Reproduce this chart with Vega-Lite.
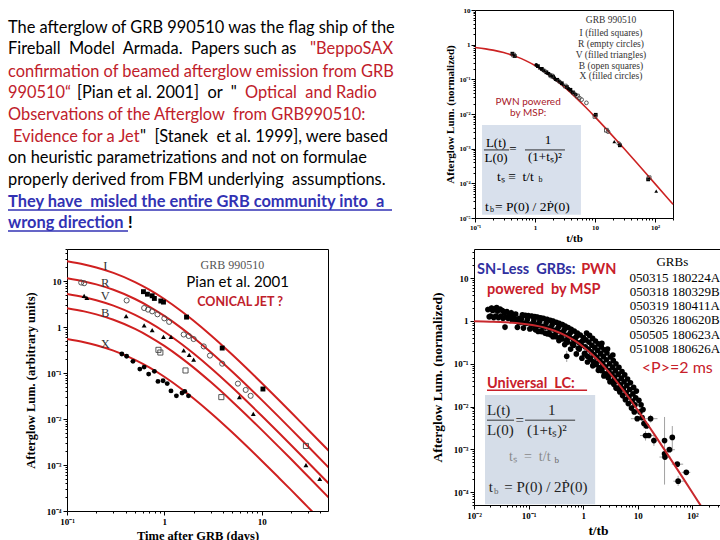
{
"$schema":"https://vega.github.io/schema/vega-lite/v6.json",
"background":"white",
"padding":{"left":0,"top":5,"right":0,"bottom":0},
"config":{
 "view":{"stroke":"black","strokeWidth":1},
 "axis":{"grid":false,"domain":false,"ticks":true,"tickColor":"black","tickSize":{"condition":{"test":"abs(log(datum.value)/LN10 - round(log(datum.value)/LN10)) < 0.001","value":4},"value":2},"labelFont":"Liberation Serif","labelFontWeight":"bold","labelColor":"black","titleFont":"Liberation Serif","titleFontWeight":"bold","titleColor":"black","labelFlush":false,"labelOverlap":false,
 "labelExpr":"datum.value == 1 ? '1' : datum.value == 10 ? '10' : datum.value == 100 ? '10²' : datum.value == 0.1 ? '10⁻¹' : datum.value == 0.01 ? '10⁻²' : datum.value == 0.001 ? '10⁻³' : datum.value == 0.0001 ? '10⁻⁴' : datum.value == 0.00001 ? '10⁻⁵' : ''"}
},
"spacing":0,
"vconcat":[
 {"spacing":24,"hconcat":[
  {
   "width":420,"height":228,"view":{"stroke":null},
   "encoding":{"x":{"field":"x","type":"quantitative","scale":{"domain":[0,420]},"axis":null},"y":{"field":"y","type":"quantitative","scale":{"domain":[0,228],"reverse":true},"axis":null}},
   "layer":[
    {"data":{"values":[
      {"x":8,"y":18.3,"txt":"The afterglow of GRB 990510 was the flag ship of the","k":"plain"},
      {"x":8,"y":39.3,"txt":"Fireball \u00a0Model \u00a0Armada. \u00a0Papers such as","k":"plain"},
      {"x":310,"y":39.3,"txt":"\"BeppoSAX","k":"cited"},
      {"x":8,"y":61.7,"txt":"confirmation of beamed afterglow emission from GRB","k":"cited"},
      {"x":8,"y":83.3,"txt":"990510“","k":"cited"},
      {"x":77,"y":83.3,"txt":"[Pian et al. 2001] \u00a0or \u00a0\"","k":"plain"},
      {"x":245,"y":83.3,"txt":"Optical \u00a0and Radio","k":"cited"},
      {"x":8,"y":105,"txt":"Observations of the Afterglow \u00a0from GRB990510:","k":"cited"},
      {"x":13,"y":126.7,"txt":"Evidence for a Jet","k":"cited"},
      {"x":140,"y":126.7,"txt":"\" \u00a0[Stanek \u00a0et al. 1999], were based","k":"plain"},
      {"x":8,"y":148.3,"txt":"on heuristic parametrizations and not on formulae","k":"plain"},
      {"x":8,"y":170,"txt":"properly derived from FBM underlying \u00a0assumptions.","k":"plain"}
     ]},
     "mark":{"type":"text","align":"left","baseline":"middle","font":"Lato","fontSize":16.4},
     "encoding":{"text":{"field":"txt"},"color":{"field":"k","type":"nominal","scale":{"domain":["plain","cited"],"range":["black","#c0202a"]},"legend":null}}},
    {"data":{"values":[
      {"x":8,"y":192.3,"txt":"They have \u00a0misled the entire GRB community into \u00a0a"},
      {"x":8,"y":213.3,"txt":"wrong direction"}
     ]},
     "mark":{"type":"text","align":"left","baseline":"middle","font":"Lato","fontSize":16.4,"fontWeight":"bold","color":"#3232b4"},
     "encoding":{"text":{"field":"txt"}}},
    {"data":{"values":[{"x":128,"y":213.3,"txt":"!"}]},
     "mark":{"type":"text","align":"left","baseline":"middle","font":"Lato","fontSize":16.4,"fontWeight":"bold","color":"black"},
     "encoding":{"text":{"field":"txt"}}},
    {"data":{"values":[{"x":8,"x2":392,"y":200},{"x":8,"x2":128,"y":221}]},
     "mark":{"type":"rule","color":"#3232b4","strokeWidth":1.3},
     "encoding":{"x2":{"field":"x2"}}}
   ]
  },
  {
   "width":198,"height":208,
   "encoding":{
    "x":{"field":"t","type":"quantitative","scale":{"type":"log","domain":[0.1,200],"nice":false},"axis":{"values":[0.1,0.2,0.3,0.4,0.5,0.6,0.7,0.8,0.9,1,2,3,4,5,6,7,8,9,10,20,30,40,50,60,70,80,90,100,200],"title":"t/tb","titleFontSize":11,"labelFontSize":7,"labelPadding":1,"titlePadding":2}},
    "y":{"field":"y","type":"quantitative","scale":{"type":"log","domain":[0.00001,10],"nice":false},"axis":{"values":[0.00001,0.00002,0.00003,0.00004,0.00005,0.00006,0.00007,0.00008,0.00009,0.0001,0.0002,0.0003,0.0004,0.0005,0.0006,0.0007,0.0008,0.0009,0.001,0.002,0.003,0.004,0.005,0.006,0.007,0.008,0.009,0.01,0.02,0.03,0.04,0.05,0.06,0.07,0.08,0.09,0.1,0.2,0.3,0.4,0.5,0.6,0.7,0.8,0.9,1,2,3,4,5,6,7,8,9,10],"title":"Afterglow Lum. (normalized)","titleFontSize":11,"labelFontSize":7,"labelPadding":1,"titlePadding":3}}
   },
   "layer":[
    {"data":{"values":[{"t":0.131,"t2":5.84,"y":0.00485,"y2":0.0000124}]},
     "mark":{"type":"rect","fill":"#d8e0ec"},
     "encoding":{"x2":{"field":"t2"},"y2":{"field":"y2"}}},
    {"data":{"values":[
      {"t":0.1,"y":0.8264},{"t":0.15,"y":0.7561},{"t":0.2,"y":0.6944},{"t":0.3,"y":0.5917},{"t":0.5,"y":0.4444},{"t":0.7,"y":0.346},{"t":1,"y":0.25},{"t":1.5,"y":0.16},{"t":2,"y":0.1111},{"t":3,"y":0.0625},{"t":5,"y":0.02778},{"t":7,"y":0.015625},{"t":10,"y":0.008264},{"t":15,"y":0.003906},{"t":20,"y":0.002268},{"t":30,"y":0.0010406},{"t":50,"y":0.0003845},{"t":70,"y":0.0001984},{"t":100,"y":0.00009803},{"t":150,"y":0.00004386},{"t":200,"y":0.00002475}
     ]},
     "mark":{"type":"line","color":"#cc2222","strokeWidth":1.6,"interpolate":"monotone"},
     "encoding":{}},
    {"data":{"name":"p1pts","values":[
      {"t":0.42,"y":0.55,"s":"I"},{"t":0.44,"y":0.5,"s":"B"},{"t":0.46,"y":0.47,"s":"I"},
      {"t":1.05,"y":0.26,"s":"X"},{"t":1.12,"y":0.24,"s":"I"},{"t":1.2,"y":0.215,"s":"V"},{"t":1.3,"y":0.2,"s":"I"},{"t":1.38,"y":0.18,"s":"X"},{"t":1.45,"y":0.175,"s":"R"},{"t":1.55,"y":0.16,"s":"I"},{"t":1.62,"y":0.15,"s":"V"},{"t":1.7,"y":0.145,"s":"X"},{"t":1.8,"y":0.13,"s":"I"},{"t":1.9,"y":0.125,"s":"B"},{"t":2.0,"y":0.12,"s":"I"},{"t":2.1,"y":0.11,"s":"X"},{"t":2.2,"y":0.1,"s":"V"},{"t":2.35,"y":0.097,"s":"I"},{"t":2.5,"y":0.088,"s":"R"},{"t":2.6,"y":0.085,"s":"X"},{"t":2.8,"y":0.077,"s":"I"},{"t":3.0,"y":0.07,"s":"V"},{"t":3.2,"y":0.064,"s":"B"},{"t":3.4,"y":0.06,"s":"I"},{"t":3.6,"y":0.054,"s":"X"},{"t":3.9,"y":0.05,"s":"I"},{"t":4.1,"y":0.046,"s":"V"},{"t":4.3,"y":0.042,"s":"I"},{"t":4.5,"y":0.039,"s":"R"},{"t":4.8,"y":0.036,"s":"X"},{"t":5.1,"y":0.033,"s":"B"},{"t":5.5,"y":0.029,"s":"R"},{"t":6.0,"y":0.026,"s":"R"},{"t":7.2,"y":0.021,"s":"R"},{"t":10.3,"y":0.0095,"s":"I"},{"t":10.0,"y":0.0085,"s":"B"},{"t":15.5,"y":0.0034,"s":"B"},{"t":16.5,"y":0.0031,"s":"R"},{"t":21,"y":0.0016,"s":"V"},{"t":26,"y":0.00125,"s":"I"},{"t":25,"y":0.0014,"s":"R"},{"t":77,"y":0.00013,"s":"I"},{"t":80,"y":0.000145,"s":"B"},{"t":105,"y":0.00006,"s":"V"}
     ]},
     "transform":[{"filter":{"field":"s","oneOf":["I","V","X"]}}],
     "mark":{"type":"point","filled":true,"color":"black","size":14,"opacity":1},
     "encoding":{"shape":{"field":"s","type":"nominal","scale":{"domain":["I","R","V","B","X"],"range":["square","circle","triangle-up","square","circle"]},"legend":null}}},
    {"data":{"name":"p1pts"},
     "transform":[{"filter":{"field":"s","oneOf":["R","B"]}}],
     "mark":{"type":"point","filled":false,"color":"#333333","size":14,"strokeWidth":0.8,"opacity":1},
     "encoding":{"shape":{"field":"s","type":"nominal","scale":{"domain":["I","R","V","B","X"],"range":["square","circle","triangle-up","square","circle"]},"legend":null}}},
    {"data":{"values":[
      {"t":18.5,"y":5.15,"txt":"GRB 990510"},
      {"t":18.5,"y":2.13,"txt":"I (filled squares)"},
      {"t":18.5,"y":1.03,"txt":"R (empty circles)"},
      {"t":18.5,"y":0.505,"txt":"V (filled triangles)"},
      {"t":18.5,"y":0.248,"txt":"B (open squares)"},
      {"t":18.5,"y":0.128,"txt":"X (filled circles)"}
     ]},
     "mark":{"type":"text","font":"Liberation Serif","fontSize":9.5,"color":"#333333","align":"center","baseline":"middle"},
     "encoding":{"text":{"field":"txt"}}},
    {"data":{"values":[{"t":0.77,"y":0.0228,"txt":"PWN powered"},{"t":0.77,"y":0.0105,"txt":"by MSP:"}]},
     "mark":{"type":"text","font":"Lato","fontSize":10,"color":"#a8202a","align":"center","baseline":"middle"},
     "encoding":{"text":{"field":"txt"}}},
    {"data":{"values":[
      {"t":0.224,"y":0.00147,"txt":"L(t)"},{"t":0.224,"y":0.00054,"txt":"L(0)"},{"t":0.43,"y":0.00098,"txt":"="},{"t":1.65,"y":0.00179,"txt":"1"},{"t":1.47,"y":0.00058,"txt":"(1+tₛ)²"}
     ]},
     "mark":{"type":"text","font":"Liberation Serif","fontSize":13,"color":"black","align":"center","baseline":"middle"},
     "encoding":{"text":{"field":"txt"}}},
    {"data":{"values":[
      {"t":0.233,"y":0.000154,"txt":"tₛ ≡ \u00a0t/t"},{"t":0.147,"y":0.000021,"txt":"t"},{"t":0.215,"y":0.000021,"txt":"= P(0) / 2Ṗ(0)"}
     ]},
     "mark":{"type":"text","font":"Liberation Serif","fontSize":13.5,"color":"black","align":"left","baseline":"middle"},
     "encoding":{"text":{"field":"txt"}}},
    {"data":{"values":[{"t":1.15,"y":0.000126,"txt":"b"},{"t":0.178,"y":0.000017,"txt":"b"}]},
     "mark":{"type":"text","font":"Liberation Serif","fontSize":8,"color":"black","align":"left","baseline":"middle"},
     "encoding":{"text":{"field":"txt"}}},
    {"data":{"values":[{"t":0.141,"t2":0.369,"y":0.00092},{"t":0.681,"t2":3.16,"y":0.00092}]},
     "mark":{"type":"rule","color":"black","strokeWidth":0.8},
     "encoding":{"x2":{"field":"t2"}}}
   ]
  }
 ]},
 {"spacing":22,"hconcat":[
  {"width":1,"height":10,"view":{"stroke":null},"data":{"values":[]},"mark":"text","encoding":{}},
  {"spacing":100,"hconcat":[
   {
    "width":261,"height":262,
    "encoding":{
     "x":{"field":"t","type":"quantitative","scale":{"type":"log","domain":[0.1,48],"nice":false},"axis":{"values":[0.1,0.2,0.3,0.4,0.5,0.6,0.7,0.8,0.9,1,2,3,4,5,6,7,8,9,10,20,30,40],"title":"Time after GRB (days)","titleFontSize":12.5,"labelFontSize":9,"labelPadding":2,"titlePadding":3}},
     "y":{"field":"y","type":"quantitative","scale":{"type":"log","domain":[0.0001,50],"nice":false},"axis":{"values":[0.0001,0.0002,0.0003,0.0004,0.0005,0.0006,0.0007,0.0008,0.0009,0.001,0.002,0.003,0.004,0.005,0.006,0.007,0.008,0.009,0.01,0.02,0.03,0.04,0.05,0.06,0.07,0.08,0.09,0.1,0.2,0.3,0.4,0.5,0.6,0.7,0.8,0.9,1,2,3,4,5,6,7,8,9,10,20,30,40,50],"title":"Afterglow Lum. (arbitrary units)","titleFontSize":12.5,"labelFontSize":9,"labelPadding":2,"titlePadding":9}}
    },
    "layer":[
     {"data":{"values":[
       {"s":"I","t":0.1,"y":26.99},{"s":"I","t":0.15,"y":23.0},{"s":"I","t":0.2,"y":19.8},{"s":"I","t":0.3,"y":15.1},{"s":"I","t":0.5,"y":9.54},{"s":"I","t":0.7,"y":6.52},{"s":"I","t":1,"y":4.08},{"s":"I","t":1.5,"y":2.21},{"s":"I","t":2,"y":1.374},{"s":"I","t":3,"y":0.666},{"s":"I","t":5,"y":0.2497},{"s":"I","t":7,"y":0.127},{"s":"I","t":10,"y":0.0609},{"s":"I","t":15,"y":0.026},{"s":"I","t":20,"y":0.0141},{"s":"I","t":30,"y":0.00587},{"s":"I","t":50,"y":0.00194},
       {"s":"R","t":0.1,"y":11.58},{"s":"R","t":0.15,"y":9.86},{"s":"R","t":0.2,"y":8.49},{"s":"R","t":0.3,"y":6.48},{"s":"R","t":0.5,"y":4.09},{"s":"R","t":0.7,"y":2.8},{"s":"R","t":1,"y":1.751},{"s":"R","t":1.5,"y":0.95},{"s":"R","t":2,"y":0.589},{"s":"R","t":3,"y":0.2855},{"s":"R","t":5,"y":0.1071},{"s":"R","t":7,"y":0.0545},{"s":"R","t":10,"y":0.0261},{"s":"R","t":15,"y":0.01114},{"s":"R","t":20,"y":0.00604},{"s":"R","t":30,"y":0.00252},{"s":"R","t":50,"y":0.000833},
       {"s":"V","t":0.1,"y":5.23},{"s":"V","t":0.15,"y":4.46},{"s":"V","t":0.2,"y":3.84},{"s":"V","t":0.3,"y":2.93},{"s":"V","t":0.5,"y":1.849},{"s":"V","t":0.7,"y":1.265},{"s":"V","t":1,"y":0.791},{"s":"V","t":1.5,"y":0.429},{"s":"V","t":2,"y":0.266},{"s":"V","t":3,"y":0.129},{"s":"V","t":5,"y":0.0484},{"s":"V","t":7,"y":0.0246},{"s":"V","t":10,"y":0.0118},{"s":"V","t":15,"y":0.00503},{"s":"V","t":20,"y":0.00273},{"s":"V","t":30,"y":0.001139},{"s":"V","t":50,"y":0.000377},
       {"s":"B","t":0.1,"y":2.58},{"s":"B","t":0.15,"y":2.2},{"s":"B","t":0.2,"y":1.893},{"s":"B","t":0.3,"y":1.443},{"s":"B","t":0.5,"y":0.912},{"s":"B","t":0.7,"y":0.624},{"s":"B","t":1,"y":0.39},{"s":"B","t":1.5,"y":0.2116},{"s":"B","t":2,"y":0.1314},{"s":"B","t":3,"y":0.0636},{"s":"B","t":5,"y":0.02387},{"s":"B","t":7,"y":0.01214},{"s":"B","t":10,"y":0.00582},{"s":"B","t":15,"y":0.00248},{"s":"B","t":20,"y":0.001347},{"s":"B","t":30,"y":0.000562},{"s":"B","t":50,"y":0.000186},
       {"s":"X","t":0.1,"y":0.551},{"s":"X","t":0.15,"y":0.469},{"s":"X","t":0.2,"y":0.404},{"s":"X","t":0.3,"y":0.308},{"s":"X","t":0.5,"y":0.1947},{"s":"X","t":0.7,"y":0.1332},{"s":"X","t":1,"y":0.0833},{"s":"X","t":1.5,"y":0.0452},{"s":"X","t":2,"y":0.02805},{"s":"X","t":3,"y":0.01359},{"s":"X","t":5,"y":0.0051},{"s":"X","t":7,"y":0.00259},{"s":"X","t":10,"y":0.001243},{"s":"X","t":15,"y":0.00053},{"s":"X","t":20,"y":0.000288},{"s":"X","t":30,"y":0.00012},{"s":"X","t":50,"y":0.0000397}
      ]},
      "mark":{"type":"line","color":"#d02020","strokeWidth":2,"interpolate":"monotone","clip":true},
      "encoding":{"detail":{"field":"s","type":"nominal"}}},
     {"data":{"name":"p2pts","values":[
       {"s":"I","t":0.61,"y":5.9},{"s":"I","t":0.67,"y":5.2},{"s":"I","t":0.75,"y":4.8},{"s":"I","t":0.79,"y":4.2},{"s":"I","t":0.92,"y":3.7},{"s":"I","t":0.98,"y":3.5},{"s":"I","t":1.69,"y":1.65},{"s":"I","t":3.93,"y":0.35},{"s":"I","t":10.3,"y":0.045},
       {"s":"R","t":0.14,"y":9.3},{"s":"R","t":0.15,"y":9.0},{"s":"R","t":0.41,"y":3.8},{"s":"R","t":0.62,"y":2.6},{"s":"R","t":0.68,"y":2.4},{"s":"R","t":0.75,"y":2.2},{"s":"R","t":0.85,"y":1.9},{"s":"R","t":1.0,"y":1.55},{"s":"R","t":1.12,"y":1.3},{"s":"R","t":1.58,"y":0.69},{"s":"R","t":1.78,"y":0.64},{"s":"R","t":2.0,"y":0.55},{"s":"R","t":2.54,"y":0.38},{"s":"R","t":2.94,"y":0.24},{"s":"R","t":3.93,"y":0.16},{"s":"R","t":5.7,"y":0.059},{"s":"R","t":6.85,"y":0.043},{"s":"R","t":7.7,"y":0.032},
       {"s":"V","t":0.15,"y":4.8},{"s":"V","t":0.16,"y":4.3},{"s":"V","t":0.405,"y":1.74},{"s":"V","t":0.62,"y":1.09},{"s":"V","t":0.75,"y":0.86},{"s":"V","t":0.98,"y":0.61},{"s":"V","t":1.17,"y":0.61},{"s":"V","t":1.58,"y":0.31},{"s":"V","t":1.8,"y":0.25},{"s":"V","t":2.0,"y":0.196},{"s":"V","t":5.9,"y":0.03},{"s":"V","t":8.2,"y":0.0129},{"s":"V","t":28.5,"y":0.00099},{"s":"V","t":39.5,"y":0.0005},
       {"s":"B","t":0.87,"y":0.32},{"s":"B","t":0.91,"y":0.28},{"s":"B","t":1.65,"y":0.114},{"s":"B","t":3.85,"y":0.03},{"s":"B","t":28.5,"y":0.0026},
       {"s":"X","t":0.366,"y":0.26},{"s":"X","t":0.41,"y":0.232},{"s":"X","t":0.476,"y":0.18},{"s":"X","t":0.56,"y":0.122},{"s":"X","t":0.62,"y":0.135},{"s":"X","t":0.69,"y":0.095},{"s":"X","t":0.79,"y":0.109},{"s":"X","t":0.86,"y":0.066},{"s":"X","t":0.97,"y":0.068},{"s":"X","t":1.07,"y":0.059},{"s":"X","t":1.17,"y":0.041},{"s":"X","t":1.33,"y":0.032},{"s":"X","t":1.52,"y":0.037},{"s":"X","t":1.62,"y":0.04},{"s":"X","t":1.77,"y":0.032}
      ]},
      "transform":[{"filter":{"field":"s","oneOf":["I","V","X"]}}],
      "mark":{"type":"point","filled":true,"color":"black","size":24,"opacity":1},
      "encoding":{"shape":{"field":"s","type":"nominal","scale":{"domain":["I","R","V","B","X"],"range":["square","circle","triangle-up","square","circle"]},"legend":null}}},
     {"data":{"name":"p2pts"},
      "transform":[{"filter":{"field":"s","oneOf":["R","B"]}}],
      "mark":{"type":"point","filled":false,"color":"#444444","size":26,"strokeWidth":0.9,"opacity":1},
      "encoding":{"shape":{"field":"s","type":"nominal","scale":{"domain":["I","R","V","B","X"],"range":["square","circle","triangle-up","square","circle"]},"legend":null}}},
     {"data":{"values":[{"t":0.247,"y":21.6,"txt":"I"},{"t":0.247,"y":9.2,"txt":"R"},{"t":0.247,"y":4.77,"txt":"V"},{"t":0.247,"y":2.0,"txt":"B"},{"t":0.247,"y":0.425,"txt":"X"}]},
      "mark":{"type":"text","font":"Liberation Serif","fontSize":12.5,"color":"#333333","align":"center","baseline":"middle"},
      "encoding":{"text":{"field":"txt"}}},
     {"data":{"values":[{"t":5.0,"y":22,"txt":"GRB 990510"}]},
      "mark":{"type":"text","font":"Liberation Serif","fontSize":12,"color":"#555555","align":"center","baseline":"middle"},
      "encoding":{"text":{"field":"txt"}}},
     {"data":{"values":[{"t":5.66,"y":9.8,"txt":"Pian et al. 2001"}]},
      "mark":{"type":"text","font":"Lato","fontSize":15,"color":"black","align":"center","baseline":"middle"},
      "encoding":{"text":{"field":"txt"}}},
     {"data":{"values":[{"t":6.0,"y":3.6,"txt":"CONICAL JET ?"}]},
      "mark":{"type":"text","font":"Lato","fontSize":12.5,"fontWeight":"bold","color":"#c0202a","align":"center","baseline":"middle"},
      "encoding":{"text":{"field":"txt"}}}
    ]
   },
   {
    "width":248,"height":256,
    "encoding":{
     "x":{"field":"t","type":"quantitative","scale":{"type":"log","domain":[0.01,350],"nice":false},"axis":{"values":[0.01,0.02,0.03,0.04,0.05,0.06,0.07,0.08,0.09,0.1,0.2,0.3,0.4,0.5,0.6,0.7,0.8,0.9,1,2,3,4,5,6,7,8,9,10,20,30,40,50,60,70,80,90,100,200,300],"title":"t/tb","titleFontSize":13.5,"labelFontSize":9,"labelPadding":2,"titlePadding":3}},
     "y":{"field":"y","type":"quantitative","scale":{"type":"log","domain":[0.00005,48],"nice":false},"axis":{"values":[0.00005,0.00006,0.00007,0.00008,0.00009,0.0001,0.0002,0.0003,0.0004,0.0005,0.0006,0.0007,0.0008,0.0009,0.001,0.002,0.003,0.004,0.005,0.006,0.007,0.008,0.009,0.01,0.02,0.03,0.04,0.05,0.06,0.07,0.08,0.09,0.1,0.2,0.3,0.4,0.5,0.6,0.7,0.8,0.9,1,2,3,4,5,6,7,8,9,10,20,30,40],"title":"Afterglow Lum. (normalized)","titleFontSize":13.5,"labelFontSize":9,"labelPadding":2,"titlePadding":9}}
    },
    "layer":[
     {"data":{"values":[{"t":0.0159,"t2":1.66,"y":0.0187,"y2":0.000052}]},
      "mark":{"type":"rect","fill":"#d5dde8"},
      "encoding":{"x2":{"field":"t2"},"y2":{"field":"y2"}}},
     {"data":{"name":"p3pts","values":[
       {"t":0.018,"y":1.85,"lo":1.55,"hi":2.2},{"t":0.019,"y":1.25},{"t":0.02,"y":1.3,"lo":1.1,"hi":1.5},{"t":0.021,"y":2.0,"lo":1.7,"hi":2.35},{"t":0.022,"y":1.75},{"t":0.023,"y":1.2},{"t":0.024,"y":1.9,"lo":1.6,"hi":2.25},{"t":0.025,"y":1.3},{"t":0.026,"y":2.05},{"t":0.027,"y":1.7,"lo":1.45,"hi":2.0},{"t":0.028,"y":1.2},{"t":0.03,"y":1.9},{"t":0.031,"y":1.3,"lo":1.1,"hi":1.5},{"t":0.033,"y":1.75},{"t":0.034,"y":1.15},{"t":0.036,"y":1.6,"lo":1.35,"hi":1.9},{"t":0.037,"y":0.72,"lo":0.6,"hi":0.85},{"t":0.038,"y":1.25},{"t":0.04,"y":1.65},{"t":0.042,"y":1.15,"lo":0.98,"hi":1.35},{"t":0.044,"y":1.45},{"t":0.046,"y":1.2},{"t":0.048,"y":1.55,"lo":1.3,"hi":1.85},{"t":0.05,"y":1.05},{"t":0.052,"y":1.35},{"t":0.055,"y":1.15,"lo":0.97,"hi":1.35},{"t":0.058,"y":1.45},{"t":0.06,"y":1.0},
       {"t":0.0624,"y":0.71},{"t":0.065,"y":0.93,"lo":0.79,"hi":1.1},{"t":0.0676,"y":1.15},
       {"t":0.071,"y":0.92},{"t":0.074,"y":1.13},{"t":0.077,"y":1.39,"lo":1.18,"hi":1.6},
       {"t":0.0806,"y":0.68,"lo":0.58,"hi":0.8},{"t":0.084,"y":0.89},{"t":0.0874,"y":1.36},
       {"t":0.0912,"y":0.88},{"t":0.095,"y":1.08,"lo":0.92,"hi":1.26},{"t":0.0988,"y":1.33},
       {"t":0.1056,"y":0.65},{"t":0.11,"y":0.85},{"t":0.1144,"y":1.3,"lo":1.1,"hi":1.5},
       {"t":0.12,"y":0.83,"lo":0.7,"hi":0.97},{"t":0.125,"y":1.03},{"t":0.13,"y":1.26},
       {"t":0.1344,"y":0.62},{"t":0.14,"y":0.81},{"t":0.1456,"y":1.23,"lo":1.04,"hi":1.42},
       {"t":0.1536,"y":0.78},{"t":0.16,"y":0.97,"lo":0.82,"hi":1.13},{"t":0.1664,"y":1.19},
       {"t":0.1728,"y":0.57,"lo":0.48,"hi":0.67},{"t":0.18,"y":0.75},{"t":0.1872,"y":1.15},
       {"t":0.2016,"y":0.72},{"t":0.21,"y":0.89},{"t":0.2184,"y":1.09,"lo":0.92,"hi":1.27},
       {"t":0.2304,"y":0.52},{"t":0.24,"y":0.68,"lo":0.58,"hi":0.8},{"t":0.2496,"y":1.04},
       {"t":0.2592,"y":0.65},{"t":0.27,"y":0.81},{"t":0.2808,"y":0.99,"lo":0.84,"hi":1.16},
       {"t":0.2976,"y":0.47,"lo":0.4,"hi":0.55},{"t":0.31,"y":0.61},{"t":0.3224,"y":0.93},
       {"t":0.336,"y":0.58},{"t":0.35,"y":0.71,"lo":0.6,"hi":0.83},{"t":0.364,"y":0.88},
       {"t":0.384,"y":0.41},{"t":0.4,"y":0.54},{"t":0.416,"y":0.82,"lo":0.69,"hi":0.96},
       {"t":0.432,"y":0.5,"lo":0.42,"hi":0.59},{"t":0.45,"y":0.62},{"t":0.468,"y":0.76},
       {"t":0.5,"y":0.15,"lo":0.11,"hi":0.2},
       {"t":0.49,"y":0.35},{"t":0.51,"y":0.46,"lo":0.39,"hi":0.54},{"t":0.53,"y":0.7},
       {"t":0.557,"y":0.42},{"t":0.58,"y":0.52},{"t":0.603,"y":0.64,"lo":0.54,"hi":0.75},
       {"t":0.634,"y":0.29,"lo":0.24,"hi":0.34},{"t":0.66,"y":0.38},{"t":0.686,"y":0.58},
       {"t":0.72,"y":0.34},{"t":0.75,"y":0.43,"lo":0.36,"hi":0.5},{"t":0.78,"y":0.52},
       {"t":0.816,"y":0.23},{"t":0.85,"y":0.31},{"t":0.884,"y":0.47,"lo":0.4,"hi":0.55},
       {"t":0.931,"y":0.27,"lo":0.23,"hi":0.32},{"t":0.97,"y":0.34},{"t":1.01,"y":0.41},
       {"t":0.13,"y":0.66},{"t":0.17,"y":0.58,"lo":0.49,"hi":0.68},{"t":0.22,"y":0.5},{"t":0.28,"y":0.43},{"t":0.36,"y":0.35,"lo":0.29,"hi":0.41},{"t":0.46,"y":0.28},{"t":0.59,"y":0.22},{"t":0.75,"y":0.17,"lo":0.14,"hi":0.2},{"t":0.95,"y":0.135},{"t":1.2,"y":0.11},{"t":1.5,"y":0.09,"lo":0.075,"hi":0.105},{"t":1.9,"y":0.07},{"t":2.4,"y":0.052},{"t":3.1,"y":0.038,"lo":0.032,"hi":0.045},{"t":4.0,"y":0.027},
       {"t":0.15,"y":0.57},{"t":0.2,"y":0.52},{"t":0.25,"y":0.48,"lo":0.4,"hi":0.56},{"t":0.32,"y":0.43},{"t":0.41,"y":0.38},{"t":0.52,"y":0.32,"lo":0.27,"hi":0.38},{"t":0.67,"y":0.27},{"t":0.85,"y":0.22},{"t":1.07,"y":0.175,"lo":0.147,"hi":0.205},{"t":1.35,"y":0.136},{"t":1.7,"y":0.103},{"t":2.15,"y":0.076,"lo":0.064,"hi":0.09},{"t":2.75,"y":0.053},{"t":3.5,"y":0.037},{"t":4.5,"y":0.025},
       {"t":1.056,"y":0.17},{"t":1.09,"y":0.25,"lo":0.21,"hi":0.3},{"t":1.122,"y":0.36},{"t":1.155,"y":0.52},
       {"t":1.2,"y":0.15,"lo":0.125,"hi":0.18},{"t":1.24,"y":0.22},{"t":1.275,"y":0.32},{"t":1.31,"y":0.46},
       {"t":1.363,"y":0.128},{"t":1.406,"y":0.19},{"t":1.448,"y":0.27,"lo":0.23,"hi":0.32},{"t":1.49,"y":0.39},
       {"t":1.536,"y":0.111},{"t":1.584,"y":0.163,"lo":0.138,"hi":0.19},{"t":1.632,"y":0.237},{"t":1.68,"y":0.34},
       {"t":1.728,"y":0.096,"lo":0.081,"hi":0.113},{"t":1.782,"y":0.141},{"t":1.836,"y":0.205},{"t":1.89,"y":0.29,"lo":0.245,"hi":0.34},
       {"t":1.968,"y":0.081},{"t":2.03,"y":0.118},{"t":2.09,"y":0.172,"lo":0.145,"hi":0.2},{"t":2.15,"y":0.247},
       {"t":2.21,"y":0.069},{"t":2.277,"y":0.101,"lo":0.085,"hi":0.12},{"t":2.346,"y":0.147},{"t":2.415,"y":0.211},
       {"t":2.5,"y":0.058,"lo":0.049,"hi":0.068},{"t":2.574,"y":0.085},{"t":2.652,"y":0.124},{"t":2.73,"y":0.178},
       {"t":2.88,"y":0.047},{"t":2.97,"y":0.069},{"t":3.06,"y":0.1,"lo":0.085,"hi":0.118},{"t":3.15,"y":0.144},
       {"t":3.26,"y":0.039},{"t":3.37,"y":0.057,"lo":0.048,"hi":0.067},{"t":3.47,"y":0.083},{"t":3.57,"y":0.119},
       {"t":3.65,"y":0.033,"lo":0.028,"hi":0.039},{"t":3.76,"y":0.048},{"t":3.88,"y":0.069},{"t":3.99,"y":0.1},
       {"t":4.13,"y":0.027},{"t":4.26,"y":0.039},{"t":4.39,"y":0.057,"lo":0.048,"hi":0.067},{"t":4.52,"y":0.082},
       {"t":4.7,"y":0.022},{"t":4.85,"y":0.032,"lo":0.027,"hi":0.038},{"t":5.0,"y":0.046},{"t":5.15,"y":0.066},
       {"t":2.2,"y":0.3},{"t":2.8,"y":0.22},{"t":3.5,"y":0.16},
       {"t":5.28,"y":0.018,"lo":0.015,"hi":0.021},{"t":5.45,"y":0.026},{"t":5.61,"y":0.038},{"t":5.78,"y":0.055},
       {"t":5.95,"y":0.0145},{"t":6.14,"y":0.021},{"t":6.32,"y":0.031,"lo":0.026,"hi":0.037},{"t":6.51,"y":0.044},
       {"t":6.72,"y":0.0117},{"t":6.93,"y":0.017,"lo":0.014,"hi":0.02},{"t":7.14,"y":0.025},{"t":7.35,"y":0.036},
       {"t":7.68,"y":0.0092,"lo":0.0076,"hi":0.011},{"t":7.92,"y":0.0135},{"t":8.16,"y":0.0197},{"t":8.4,"y":0.028},
       {"t":8.64,"y":0.0075},{"t":8.91,"y":0.011},{"t":9.18,"y":0.016,"lo":0.013,"hi":0.019},{"t":9.45,"y":0.023},
       {"t":9.8,"y":0.0052,"tl":7.5,"th":13},{"t":10.5,"y":0.014},{"t":11.0,"y":0.0075,"lo":0.006,"hi":0.0095},{"t":11.5,"y":0.011},{"t":12.0,"y":0.0055},{"t":12.5,"y":0.0085},{"t":13.0,"y":0.004,"lo":0.0031,"hi":0.005},{"t":13.9,"y":0.0021,"lo":0.0016,"hi":0.0027,"tl":11,"th":17},{"t":15.9,"y":0.0021,"tl":12.5,"th":20},{"t":14.5,"y":0.0035},{"t":17.2,"y":0.0052,"lo":0.0042,"hi":0.0064,"tl":13,"th":23},{"t":19.8,"y":0.0016,"lo":0.0012,"hi":0.002},{"t":31,"y":0.0016,"lo":0.00015,"hi":0.0057},{"t":43,"y":0.0019,"lo":0.0009,"hi":0.0035},{"t":38,"y":0.00098,"tl":30,"th":48},{"t":31,"y":0.00079,"lo":0.0006,"hi":0.001},{"t":31.5,"y":0.00066,"tl":25,"th":40},{"t":53,"y":0.00045,"tl":42,"th":68},{"t":77.6,"y":0.00029,"tl":64,"th":92},{"t":55,"y":0.00018,"lo":0.00014,"hi":0.00024,"tl":45,"th":70}
      ]},
      "transform":[{"filter":{"field":"lo","valid":true}}],
      "mark":{"type":"rule","color":"#8a8a8a","strokeWidth":0.8},
      "encoding":{"y":{"field":"lo","type":"quantitative"},"y2":{"field":"hi"}}},
     {"data":{"name":"p3pts"},
      "transform":[{"filter":{"field":"tl","valid":true}}],
      "mark":{"type":"rule","color":"#8a8a8a","strokeWidth":0.8},
      "encoding":{"x":{"field":"tl","type":"quantitative"},"x2":{"field":"th"}}},
     {"data":{"name":"p3pts"},
      "mark":{"type":"circle","color":"black","size":32,"opacity":1},
      "encoding":{}},
     {"data":{"values":[
       {"t":0.01,"y":0.9803},{"t":0.02,"y":0.9612},{"t":0.03,"y":0.9426},{"t":0.05,"y":0.907},{"t":0.07,"y":0.8734},{"t":0.1,"y":0.8264},{"t":0.15,"y":0.7561},{"t":0.2,"y":0.6944},{"t":0.3,"y":0.5917},{"t":0.5,"y":0.4444},{"t":0.7,"y":0.346},{"t":1,"y":0.25},{"t":1.5,"y":0.16},{"t":2,"y":0.1111},{"t":3,"y":0.0625},{"t":5,"y":0.02778},{"t":7,"y":0.015625},{"t":10,"y":0.008264},{"t":15,"y":0.003906},{"t":20,"y":0.002268},{"t":30,"y":0.0010406},{"t":50,"y":0.0003845},{"t":70,"y":0.0001984},{"t":100,"y":0.00009803},{"t":150,"y":0.00004386},{"t":200,"y":0.00002475}
      ]},
      "mark":{"type":"line","color":"#c8282d","strokeWidth":2,"interpolate":"monotone","clip":true},
      "encoding":{}},
     {"data":{"values":[{"t":0.01135,"y":15.3,"txt":"SN-Less \u00a0GRBs:"}]},
      "mark":{"type":"text","font":"Lato","fontSize":14.5,"fontWeight":"bold","color":"#3030a0","align":"left","baseline":"middle"},
      "encoding":{"text":{"field":"txt"}}},
     {"data":{"values":[{"t":0.918,"y":15.3,"txt":"PWN"},{"t":0.0173,"y":5.2,"txt":"powered \u00a0by MSP"},{"t":0.0173,"y":0.034,"txt":"Universal \u00a0LC:"}]},
      "mark":{"type":"text","font":"Lato","fontSize":14.5,"fontWeight":"bold","color":"#c8202a","align":"left","baseline":"middle"},
      "encoding":{"text":{"field":"txt"}}},
     {"data":{"values":[{"t":0.0173,"t2":1.18,"y":0.024}]},
      "mark":{"type":"rule","color":"#c8202a","strokeWidth":1.5},
      "encoding":{"x2":{"field":"t2"}}},
     {"data":{"values":[{"t":53,"y":0.081,"txt":"<P>=2 ms"}]},
      "mark":{"type":"text","font":"Lato","fontSize":16,"color":"#c8202a","align":"center","baseline":"middle"},
      "encoding":{"text":{"field":"txt"}}},
     {"data":{"values":[
       {"t":43,"y":23.9,"txt":"GRBs"},{"t":47.7,"y":10.3,"txt":"050315 180224A"},{"t":47.7,"y":4.76,"txt":"050318 180329B"},{"t":47.7,"y":2.2,"txt":"050319 180411A"},{"t":47.7,"y":1.04,"txt":"050326 180620B"},{"t":47.7,"y":0.48,"txt":"050505 180623A"},{"t":47.7,"y":0.225,"txt":"051008 180626A"}
      ]},
      "mark":{"type":"text","font":"Liberation Serif","fontSize":13,"color":"black","align":"center","baseline":"middle"},
      "encoding":{"text":{"field":"txt"}}},
     {"data":{"values":[
       {"t":0.0173,"y":0.0082,"txt":"L(t)"},{"t":0.0173,"y":0.0028,"txt":"L(0)"},{"t":0.0573,"y":0.0048,"txt":"="},{"t":0.228,"y":0.0082,"txt":"1"},{"t":0.094,"y":0.0028,"txt":"(1+tₛ)²"},{"t":0.0186,"y":0.000132,"txt":"t"},{"t":0.036,"y":0.000132,"txt":"= P(0) / 2Ṗ(0)"}
      ]},
      "mark":{"type":"text","font":"Liberation Serif","fontSize":15,"color":"#222222","align":"left","baseline":"middle"},
      "encoding":{"text":{"field":"txt"}}},
     {"data":{"values":[{"t":0.0439,"y":0.00066,"txt":"tₛ \u00a0= \u00a0t/t"}]},
      "mark":{"type":"text","font":"Liberation Serif","fontSize":14,"color":"#888888","align":"left","baseline":"middle"},
      "encoding":{"text":{"field":"txt"}}},
     {"data":{"values":[{"t":0.3,"y":0.00057,"txt":"b"},{"t":0.0233,"y":0.000107,"txt":"b"}]},
      "mark":{"type":"text","font":"Liberation Serif","fontSize":9,"color":"#666666","align":"left","baseline":"middle"},
      "encoding":{"text":{"field":"txt"}}},
     {"data":{"values":[{"t":0.0173,"t2":0.0542,"y":0.0048},{"t":0.0863,"t2":0.713,"y":0.0048}]},
      "mark":{"type":"rule","color":"#222222","strokeWidth":0.9},
      "encoding":{"x2":{"field":"t2"}}}
    ]
   }
  ]}
 ]}
]
}
